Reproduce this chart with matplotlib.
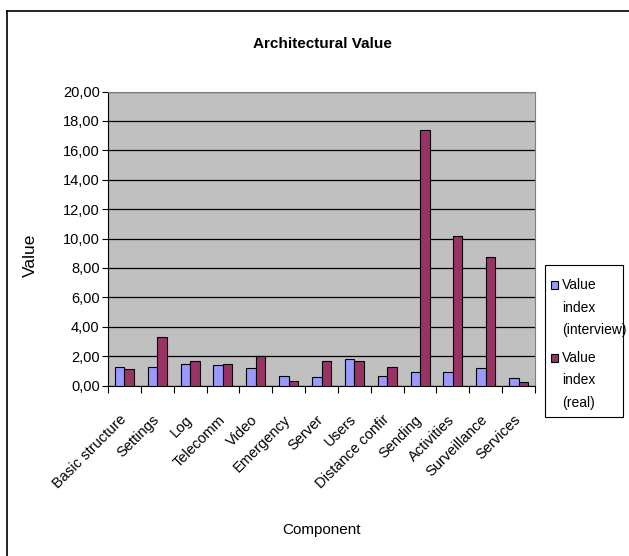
import matplotlib
matplotlib.use("Agg")
import matplotlib.pyplot as plt
import numpy as np
from matplotlib.lines import Line2D
from matplotlib.patches import Rectangle

plt.rcParams['font.family'] = ['Liberation Sans', 'DejaVu Sans']

categories = ["Basic structure", "Settings", "Log", "Telecomm", "Video", "Emergency",
              "Server", "Users", "Distance confir", "Sending", "Activities",
              "Surveillance", "Services"]
interview = [1.29, 1.29, 1.47, 1.38, 1.20, 0.66, 0.59, 1.81, 0.66, 0.93, 0.93, 1.20, 0.50]
real = [1.11, 3.33, 1.65, 1.47, 2.02, 0.29, 1.65, 1.65, 1.29, 17.41, 10.18, 8.75, 0.25]
series_names = [["Value", "index", "(interview)"], ["Value", "index", "(real)"]]
series_colors = ["#9999FF", "#993366"]
yticks = np.arange(0, 21, 2)

W, H = 629, 556
fig = plt.figure(figsize=(W / 100, H / 100), dpi=100)


def fx(px):
    return px / W


def fy(py):
    return 1 - py / H


ax = fig.add_axes([fx(108), fy(385.5), 427 / W, 294 / H])
ax.set_facecolor("#C0C0C0")

x = np.arange(len(categories))
bw = 0.29
ax.bar(x - bw / 2, interview, bw, color=series_colors[0], edgecolor="black", linewidth=0.8, zorder=3)
ax.bar(x + bw / 2, real, bw, color=series_colors[1], edgecolor="black", linewidth=0.8, zorder=3)

ax.set_xlim(-0.5, len(categories) - 0.5)
ax.set_ylim(0, 20)
ax.set_yticks(yticks)
ax.set_yticklabels([f"{v:.2f}".replace(".", ",") for v in yticks], fontsize=10.5)
ax.yaxis.grid(True, color="black", linewidth=0.9, zorder=1)
ax.set_axisbelow(True)

ax.set_xticks(np.arange(-0.5, len(categories), 1))
ax.set_xticklabels([])
ax.set_xticks(x, minor=True)
ax.set_xticklabels(categories, minor=True, rotation=45, ha="right", va="center",
                   rotation_mode="anchor", fontsize=10.5)
ax.tick_params(axis="x", which="minor", length=0, pad=23)
ax.tick_params(axis="x", which="major", length=5, direction="out", width=0.8)
ax.tick_params(axis="y", length=4, direction="out", width=0.8, pad=2)

for s in ["top", "right"]:
    ax.spines[s].set_color("#808080")
    ax.spines[s].set_linewidth(0.8)
ax.spines["left"].set_color("black")
ax.spines["bottom"].set_color("black")

ax.set_ylabel("Value", fontsize=12.5)
ax.yaxis.set_label_coords((38 - 108) / 427, (385.5 - 255) / 294)
ax.set_xlabel("Component", fontsize=11)
ax.xaxis.set_label_coords(0.5, (385.5 - 523) / 294)

fig.text(fx(322), fy(44), "Architectural Value", ha="center", va="center",
         fontsize=11, fontweight="bold")

# legend box (drawn in figure pixels)
fig.add_artist(Rectangle((fx(545), fy(417)), (623 - 545) / W, (417 - 265) / H,
                         transform=fig.transFigure, facecolor="white",
                         edgecolor="black", linewidth=0.8))
entry_tops = [285, 358]
for lines, col, y0 in zip(series_names, series_colors, entry_tops):
    fig.add_artist(Rectangle((fx(551), fy(y0 + 4)), 7 / W, 8 / H,
                             transform=fig.transFigure, facecolor=col,
                             edgecolor="black", linewidth=0.8))
    for i, line in enumerate(lines):
        fig.text(fx(562), fy(y0 + i * 22.5), line, ha="left", va="center", fontsize=10)

fig.add_artist(Line2D([fx(7), fx(7)], [0, fy(11)], color="black", linewidth=1.2))
fig.add_artist(Line2D([fx(7), 1], [fy(11), fy(11)], color="black", linewidth=1.2))

fig.savefig("out.png", dpi=100)
